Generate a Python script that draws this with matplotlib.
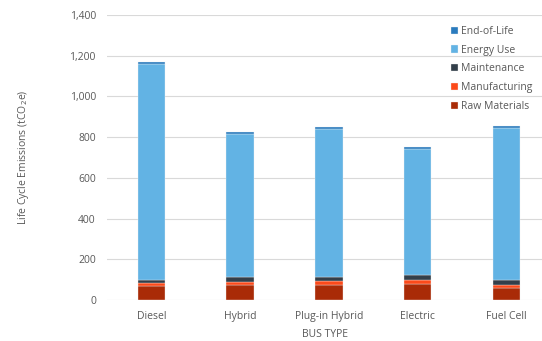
import numpy as np
import matplotlib.pyplot as plt

buses = ['Diesel', 'Hybrid', 'Plug-in Hybrid', 'Electric', 'Fuel Cell']
raw_materials = [67, 74, 74, 77, 60]
manufacturing = [15, 16, 20, 23, 15]
maintenance = [17, 23, 20, 25, 25]
energy_use = [1060, 702, 727, 618, 746]
end_of_life = [11, 10, 10, 10, 10]

layers = [('Raw Materials', raw_materials, '#A92B07'),
          ('Manufacturing', manufacturing, '#FC4A1A'),
          ('Maintenance', maintenance, '#333F4A'),
          ('Energy Use', energy_use, '#62B3E4'),
          ('End-of-Life', end_of_life, '#2A7BBE')]

plt.rcParams['font.family'] = ['Open Sans', 'DejaVu Sans']
fig = plt.figure(figsize=(5.42, 3.41), dpi=100)
ax = fig.add_axes([107/542, 41/341, 435/542, 285/341])

x = np.arange(len(buses))
bottom = np.zeros(len(buses))
for name, vals, col in layers:
    ax.bar(x, vals, 0.31, bottom=bottom, color=col, label=name,
           edgecolor='#F2F2F2', linewidth=0.25, zorder=3)
    bottom += np.array(vals)

ax.set_ylim(0, 1400)
ax.set_xlim(-0.5, 4.4)
ax.set_yticks(range(0, 1401, 200))
ax.set_yticklabels(['{:,}'.format(v) for v in range(0, 1401, 200)])
ax.set_xticks(x)
ax.set_xticklabels(buses)
ax.grid(axis='y', color='#D9D9D9', linewidth=0.8, zorder=0)
for s in ax.spines.values():
    s.set_visible(False)
ax.tick_params(length=0, labelsize=7.5, colors='#595959', pad=8)
ax.set_ylabel(r'Life Cycle Emissions (tCO$_2$e)', fontsize=7.5, color='#595959', labelpad=28)
ax.set_xlabel('BUS TYPE', fontsize=7.5, color='#595959', labelpad=5)

h, l = ax.get_legend_handles_labels()
leg = ax.legend(h[::-1], l[::-1], loc='upper right', bbox_to_anchor=(1.0, 0.995),
                frameon=False, fontsize=7.5, handlelength=0.7, handleheight=0.7,
                handletextpad=0.3, labelspacing=0.75)
for t in leg.get_texts():
    t.set_color('#595959')

fig.savefig('out.png', dpi=100)
